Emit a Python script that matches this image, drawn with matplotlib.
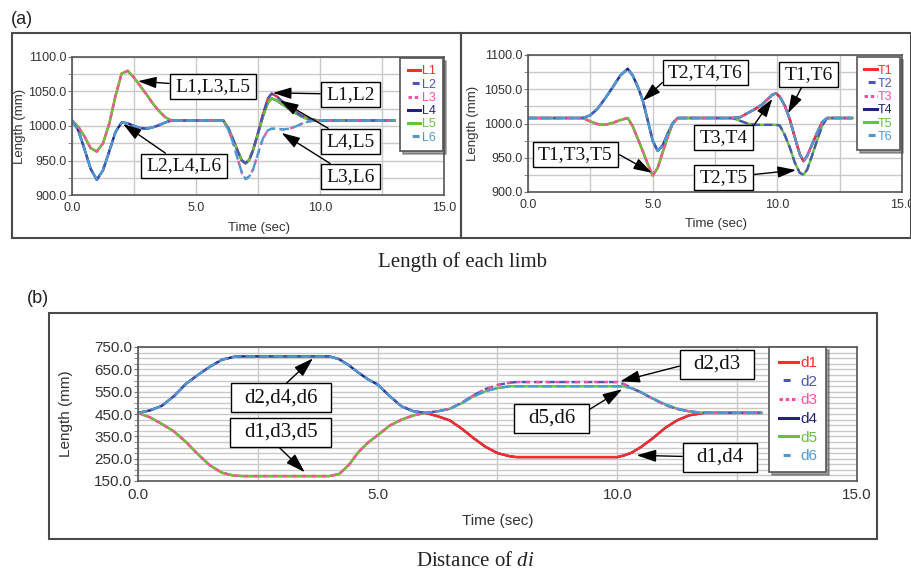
import numpy as np
import matplotlib.pyplot as plt
from matplotlib.lines import Line2D
from matplotlib.patches import Rectangle
from matplotlib.path import Path

plt.rcParams['font.family'] = 'Liberation Sans'
plt.rcParams['lines.scale_dashes'] = False
plt.rcParams['mathtext.fontset'] = 'custom'
plt.rcParams['mathtext.rm'] = 'Liberation Serif'
plt.rcParams['mathtext.it'] = 'Liberation Serif:italic'

W, H = 912, 575

# ---- (a) left: limb lengths L1..L6 (mm) ----
tl_a = [0, 0.25, 0.5, 0.75, 1.0, 1.25, 1.5, 1.75, 2.0, 2.25, 2.5, 2.75, 3.0, 3.25, 3.5, 3.75, 4.0]
l135_a = [1008, 999, 985, 968, 963, 975, 1003, 1043, 1076, 1080, 1070, 1058, 1046, 1033, 1022, 1013, 1008]
l246_a = [1008, 994, 967, 938, 922, 936, 963, 991, 1005, 1004, 1000, 997, 996, 998, 1001, 1005, 1008]
tl_b = [6.1, 6.3, 6.5, 6.7, 6.85, 7.0, 7.15, 7.3, 7.5, 7.7, 7.9, 8.05, 8.25, 8.5, 8.75, 9.0, 9.25, 9.5, 9.75, 10.0, 13.0]
l12_b = [1008, 997, 980, 962, 950, 946, 951, 965, 990, 1017, 1040, 1047, 1043, 1035, 1028, 1021, 1015, 1011, 1009, 1008, 1008]
l45_b = [1008, 997, 980, 962, 950, 946, 951, 965, 989, 1014, 1034, 1040, 1037, 1031, 1025, 1019, 1014, 1010, 1008, 1008, 1008]
l36_b = [1008, 995, 975, 950, 932, 923, 927, 937, 960, 982, 994, 996, 996, 995, 996, 999, 1003, 1006, 1008, 1008, 1008]

# ---- (a) right: T1..T6 (mm) ----
tt_a = [0, 2.2, 2.5, 2.8, 3.1, 3.4, 3.7, 4.0, 4.2, 4.4, 4.6, 4.8, 5.0, 5.2, 5.4, 5.6, 5.8, 6.0]
t246_a = [1008, 1008, 1012, 1022, 1037, 1053, 1070, 1080, 1070, 1054, 1034, 1005, 975, 960, 968, 985, 1000, 1008]
t135_a = [1008, 1008, 1003, 999, 998, 1001, 1005, 1008, 996, 978, 960, 941, 924, 935, 958, 980, 1000, 1008]
tt_b = [8.2, 8.5, 8.8, 9.1, 9.4, 9.6, 9.8, 9.95, 10.1, 10.3, 10.5, 10.7, 10.9, 11.05, 11.2, 11.4, 11.6, 11.8, 12.0, 13.0]
t1346_b = [1008, 1009, 1015, 1021, 1028, 1035, 1042, 1044, 1039, 1026, 1006, 980, 955, 945, 953, 970, 987, 1002, 1008, 1008]
t25_b = [1008, 1004, 1000, 998, 998, 998, 998, 998, 997, 983, 965, 943, 928, 925, 933, 954, 976, 997, 1008, 1008]

# ---- (b): distances d1..d6 (mm) ----
td_a = [0, 0.25, 0.5, 0.75, 1.0, 1.25, 1.5, 1.75, 2.0, 2.2, 4.0, 4.2, 4.4, 4.6, 4.8, 5.0, 5.25, 5.5, 5.75, 6.0]
d246_a = [455, 466, 487, 530, 585, 625, 662, 693, 706, 708, 708, 695, 668, 635, 605, 582, 530, 484, 462, 455]
d135_a = [455, 435, 405, 372, 325, 270, 220, 187, 174, 172, 172, 182, 222, 280, 322, 355, 398, 425, 444, 455]
td_b = [6.25, 6.5, 6.75, 7.0, 7.25, 7.5, 7.75, 7.9, 10.0, 10.15, 10.3, 10.5, 10.75, 11.0, 11.25, 11.5, 11.8, 13.0]
d23_b = [462, 473, 500, 534, 562, 580, 590, 593, 593, 583, 566, 546, 517, 490, 472, 462, 455, 455]
d56_b = [462, 473, 498, 529, 552, 566, 574, 574, 574, 573, 565, 547, 518, 493, 474, 461, 455, 455]
d14_b = [440, 422, 385, 342, 303, 275, 261, 257, 257, 265, 277, 303, 343, 388, 422, 444, 455, 455]

colors = ['#ff2a2a', '#4a55b8', '#ff4fa3', '#222277', '#66c33a', '#4d9ad0']
line_ls = ['-', (0, (6, 3)), (0, (3, 4)), '-', '-', (0, (7, 3))]
legend_ls = ['-', (12, (5, 10)), (0, (2.5, 2)), '-', '-', (12, (5, 10))]
draw_order = [3, 0, 4, 1, 2, 5]

fig = plt.figure(figsize=(W / 100, H / 100), dpi=100)


def px_axes(l, t, r, b):
    return fig.add_axes([l / W, 1 - b / H, (r - l) / W, (b - t) / H])


def style_axes(ax, ylo, yhi, ystep, fs):
    ax.set_xlim(0, 15)
    ax.set_ylim(ylo, yhi)
    ax.set_xticks(np.arange(0, 15.1, 5))
    ax.set_xticks(np.arange(0, 15.1, 2.5), minor=True)
    ax.set_yticks(np.arange(ylo, yhi + 1, ystep))
    ax.set_yticks(np.arange(ylo, yhi + 1, 25), minor=True)
    ax.xaxis.set_major_formatter('{x:.1f}')
    ax.yaxis.set_major_formatter('{x:.1f}')
    ax.grid(which='both', color='#c9c9c9', lw=1)
    ax.set_axisbelow(True)
    for s in ax.spines.values():
        s.set_color('#555555')
        s.set_linewidth(1.2)
    ax.tick_params(which='both', direction='out', length=3, color='#777777',
                   labelsize=fs, labelcolor='#333333', pad=1)
    ax.tick_params(axis='x', which='both', length=0, pad=5)


def plot_series(ax, t, series):
    for i in draw_order:
        ax.plot(t, series[i], color=colors[i], ls=line_ls[i], lw=1.7)


def add_legend(ax, labels, anchor, fs, spacing, hl):
    handles = [Line2D([], [], color=c, ls=ls, lw=2.2) for c, ls in zip(colors, legend_ls)]
    leg = ax.legend(handles, labels, loc='upper right', bbox_to_anchor=anchor,
                    fontsize=fs, handlelength=hl, handletextpad=0.1,
                    labelspacing=spacing, borderpad=0.6, borderaxespad=0,
                    fancybox=False, shadow=True, edgecolor='#555555', framealpha=1)
    leg.get_frame().set_linewidth(1.2)
    for txt, c in zip(leg.get_texts(), colors):
        txt.set_color(c)


def make_box(padx, pady):
    def box(x0, y0, width, height, mutation_size):
        px, py = padx * mutation_size, pady * mutation_size
        x0, y0 = x0 - px, y0 - py
        x1, y1 = x0 + width + 2 * px, y0 + height + 2 * py
        return Path([(x0, y0), (x1, y0), (x1, y1), (x0, y1), (x0, y0)], closed=True)
    return box


def note(ax, text, xy, xytext, fs, box, relpos=(0.5, 0.5)):
    ax.annotate(text, xy=xy, xytext=xytext, ha='center', va='center',
                fontsize=fs, family='Liberation Serif', color='#111111',
                bbox=dict(boxstyle=box, fc='white', ec='black', lw=1),
                arrowprops=dict(arrowstyle='-|>,head_length=0.8,head_width=0.25',
                                color='black', lw=1, shrinkA=0, shrinkB=0, relpos=relpos),
                annotation_clip=False, zorder=6)


# ---------- (a) left ----------
axL = px_axes(72, 57, 444, 195)
style_axes(axL, 900, 1100, 50, 9)
tl = tl_a + tl_b
L1 = l135_a + l12_b
L2 = l246_a + l12_b
L3 = l135_a + l36_b
L4 = l246_a + l45_b
L5 = l135_a + l45_b
L6 = l246_a + l36_b
plot_series(axL, tl, [L1, L2, L3, L4, L5, L6])
axL.set_xlabel('Time (sec)', fontsize=9.5, color='#333333')
axL.set_ylabel('Length (mm)', fontsize=9.5, color='#333333')
axL.xaxis.set_label_coords(0.503, -0.195)
axL.yaxis.set_label_coords(-0.124, 0.5)
add_legend(axL, ['L1', 'L2', 'L3', 'L4', 'L5', 'L6'], (0.997, 0.993), 9, 0.1, 1.0)
bx = make_box(0.28, 0.2)
note(axL, 'L1,L3,L5', (2.66, 1065), (5.67, 1057), 14, bx)
note(axL, 'L1,L2', (8.1, 1048), (11.23, 1046), 14, bx)
note(axL, 'L4,L5', (8.39, 1037), (11.23, 978), 14, bx)
note(axL, 'L3,L6', (8.45, 990), (11.23, 927), 14, bx)
note(axL, 'L2,L4,L6', (2.06, 1003), (4.52, 942), 14, bx)

# ---------- (a) right ----------
axT = px_axes(528, 55, 902, 192)
style_axes(axT, 900, 1100, 50, 9)
tt = tt_a + tt_b
T1 = t135_a + t1346_b
T2 = t246_a + t25_b
T3 = t135_a + t1346_b
T4 = t246_a + t1346_b
T5 = t135_a + t25_b
T6 = t246_a + t1346_b
plot_series(axT, tt, [T1, T2, T3, T4, T5, T6])
axT.set_xlabel('Time (sec)', fontsize=9.5, color='#333333')
axT.set_ylabel('Length (mm)', fontsize=9.5, color='#333333')
axT.xaxis.set_label_coords(0.503, -0.19)
axT.yaxis.set_label_coords(-0.131, 0.5)
add_legend(axT, ['T1', 'T2', 'T3', 'T4', 'T5', 'T6'], (0.995, 0.985), 9, 0.1, 1.0)
note(axT, 'T2,T4,T6', (4.6, 1033), (7.12, 1074), 14, bx, relpos=(0.0, 0.25))
note(axT, 'T1,T6', (10.43, 1015), (11.25, 1072), 14, bx)
note(axT, 'T3,T4', (9.8, 1036), (7.86, 979), 14, bx, relpos=(1.0, 0.75))
note(axT, 'T1,T3,T5', (4.97, 928), (1.9, 955), 14, bx, relpos=(1.0, 0.7))
note(axT, 'T2,T5', (10.75, 932), (7.86, 921), 14, bx)

# ---------- (b) ----------
axD = px_axes(138, 347, 857, 481)
style_axes(axD, 150, 750, 100, 11)
td = td_a + td_b
D1 = d135_a + d14_b
D2 = d246_a + d23_b
D3 = d135_a + d23_b
D4 = d246_a + d14_b
D5 = d135_a + d56_b
D6 = d246_a + d56_b
plot_series(axD, td, [D1, D2, D3, D4, D5, D6])
axD.set_xlabel('Time (sec)', fontsize=11, color='#333333')
axD.set_ylabel('Length (mm)', fontsize=11, color='#333333')
axD.xaxis.set_label_coords(0.5, -0.246)
axD.yaxis.set_label_coords(-0.09, 0.5)
add_legend(axD, ['d1', 'd2', 'd3', 'd4', 'd5', 'd6'], (0.957, 1.0), 11, 0.3, 1.3)
bxd = make_box(0.65, 0.24)
note(axD, 'd2,d4,d6', (3.65, 699), (2.98, 522), 15, bxd, relpos=(0.5, 1.0))
note(axD, 'd1,d3,d5', (3.48, 189), (2.98, 368), 15, bxd, relpos=(0.4, 0.0))
note(axD, 'd2,d3', (10.06, 596), (12.08, 672), 15, bxd, relpos=(0.0, 0.6))
note(axD, 'd5,d6', (10.1, 561), (8.63, 431), 15, bxd, relpos=(1.0, 0.5))
note(axD, 'd1,d4', (10.4, 265), (12.14, 256), 15, bxd)

# panel frames, labels and captions
for l, t, r, b in [(12, 33, 461, 238), (461, 33, 911, 238), (49, 313, 877, 539)]:
    fig.add_artist(Rectangle((l / W, 1 - b / H), (r - l) / W, (b - t) / H,
                             transform=fig.transFigure, fill=False,
                             ec='#4a4a4a', lw=1.5))
fig.text(11 / W, 1 - 20 / H, '(a)', fontsize=13, ha='left', va='center', color='#222222')
fig.text(27 / W, 1 - 298 / H, '(b)', fontsize=13, ha='left', va='center', color='#222222')
fig.text(463 / W, 1 - 262 / H, 'Length of each limb', family='Liberation Serif',
         fontsize=15, ha='center', va='center', color='#222222')
fig.text(475 / W, 1 - 562 / H, 'Distance of $di$', family='Liberation Serif',
         fontsize=15, ha='center', va='center', color='#222222')

fig.savefig('out.png', dpi=100)
